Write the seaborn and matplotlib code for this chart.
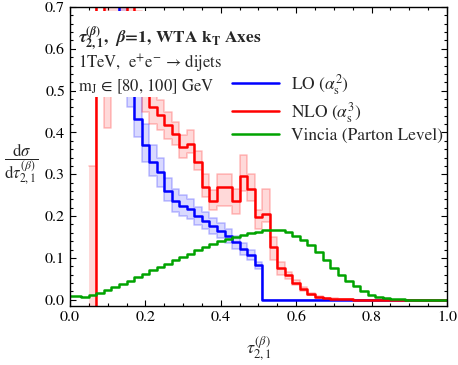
import numpy as np
import pandas as pd
import matplotlib
matplotlib.use("Agg")
import matplotlib.pyplot as plt
from matplotlib.patches import Rectangle
from matplotlib.ticker import MultipleLocator, FormatStrFormatter
import seaborn as sns

nan = np.nan

# bin centres, width 0.02
tau_centres = np.linspace(0.0, 1.0, 51)

# LO (alpha_s^2)
lo = [nan, nan, nan, nan, nan, nan,
      1.00, 0.62, 0.52, 0.433, 0.369, 0.329, 0.305, 0.261, 0.237, 0.225,
      0.217, 0.201, 0.189, 0.177, 0.165, 0.153, 0.137, 0.122, 0.106, 0.082,
      0, 0, 0, 0, 0, 0, 0, 0, 0, 0, 0, 0, 0, 0, 0, 0, 0, 0, 0, 0, 0, 0, 0, 0, 0]
lo_lower = [nan, nan, nan, nan, nan, nan,
            0.90, 0.55, 0.46, 0.39, 0.33, 0.295, 0.27, 0.235, 0.21, 0.20,
            0.193, 0.178, 0.168, 0.157, 0.147, 0.136, 0.122, 0.108, 0.094, 0.073,
            0, 0, 0, 0, 0, 0, 0, 0, 0, 0, 0, 0, 0, 0, 0, 0, 0, 0, 0, 0, 0, 0, 0, 0, 0]
lo_upper = [nan, nan, nan, nan, nan, nan,
            1.20, 0.72, 0.60, 0.49, 0.42, 0.37, 0.34, 0.29, 0.265, 0.25,
            0.24, 0.222, 0.21, 0.196, 0.183, 0.17, 0.152, 0.136, 0.118, 0.091,
            0, 0, 0, 0, 0, 0, 0, 0, 0, 0, 0, 0, 0, 0, 0, 0, 0, 0, 0, 0, 0, 0, 0, 0, 0]

# NLO (alpha_s^3)
nlo = [nan, nan, nan, -0.10, 1.40, 0.60, 0.62, 0.64, 0.72, 0.56,
       0.50, 0.461, 0.441, 0.417, 0.397, 0.365, 0.373, 0.33, 0.27, 0.235,
       0.269, 0.269, 0.237, 0.297, 0.265, 0.197, 0.205, 0.125, 0.077, 0.058,
       0.041, 0.026, 0.014, 0.007, 0.003, 0.002, 0.001, 0.001, 0.0005,
       0, 0, 0, 0, 0, 0, 0, 0, 0, 0, 0, 0]
nlo_lower = [nan, nan, nan, -0.20, 1.00, 0.41, 0.50, 0.52, 0.60, 0.49,
             0.45, 0.42, 0.405, 0.385, 0.37, 0.34, 0.35, 0.31, 0.245, 0.215,
             0.225, 0.225, 0.205, 0.26, 0.235, 0.17, 0.185, 0.095, 0.06, 0.05,
             0.035, 0.022, 0.011, 0.005, 0.002, 0.001, 0.001, 0.001, 0.0005,
             0, 0, 0, 0, 0, 0, 0, 0, 0, 0, 0, 0]
nlo_upper = [nan, nan, nan, 0.32, 2.00, 0.80, 0.80, 0.80, 0.85, 0.69,
             0.56, 0.50, 0.478, 0.448, 0.425, 0.395, 0.405, 0.355, 0.30, 0.262,
             0.30, 0.30, 0.265, 0.345, 0.30, 0.215, 0.265, 0.15, 0.09, 0.067,
             0.048, 0.031, 0.017, 0.009, 0.004, 0.003, 0.001, 0.001, 0.0005,
             0, 0, 0, 0, 0, 0, 0, 0, 0, 0, 0, 0]

# Vincia (parton level)
vincia = [0.010, 0.008, 0.007, 0.011, 0.017, 0.023, 0.030, 0.038, 0.046, 0.054,
          0.062, 0.070, 0.078, 0.086, 0.094, 0.102, 0.110, 0.118, 0.126, 0.133,
          0.140, 0.146, 0.151, 0.156, 0.160, 0.163, 0.166, 0.167, 0.166, 0.161,
          0.153, 0.143, 0.131, 0.113, 0.095, 0.077, 0.060, 0.045, 0.032, 0.021,
          0.012, 0.006, 0.003, 0.001, 0.001, 0.0005, 0, 0, 0, 0, 0]

BLUE, RED, GREEN = "#0000ff", "#ff0000", "#00a300"


def ext(vals):
    vals = np.asarray(vals, dtype=float)
    return np.append(vals, vals[-1])


edges = np.append(tau_centres - 0.01, tau_centres[-1] + 0.01)
df = pd.DataFrame({"tau": edges, "LO": ext(lo), "NLO": ext(nlo), "Vincia": ext(vincia)})

sns.set_style("ticks")
plt.rcParams["font.family"] = ["STIXGeneral", "DejaVu Sans"]
plt.rcParams["mathtext.fontset"] = "stix"

fig = plt.figure(figsize=(4.58, 3.65), dpi=100)
ax = fig.add_axes([0.1528, 0.1616, 0.8231, 0.8192])

# scale-variation bands
for lowr, upr, col in [(lo_lower, lo_upper, BLUE), (nlo_lower, nlo_upper, RED)]:
    ax.fill_between(edges, ext(lowr), ext(upr), step="post", color=col,
                    alpha=0.15, lw=0, zorder=1)
    for b in (lowr, upr):
        ax.step(edges, ext(b), where="post", color=col, alpha=0.22, lw=1.2, zorder=1)

sns.lineplot(data=df, x="tau", y="LO", drawstyle="steps-post", color=BLUE, lw=1.8,
             estimator=None, label=r"LO ($\alpha_\mathrm{s}^{2}$)", ax=ax, zorder=2)
sns.lineplot(data=df, x="tau", y="NLO", drawstyle="steps-post", color=RED, lw=1.8,
             estimator=None, label=r"NLO ($\alpha_\mathrm{s}^{3}$)", ax=ax, zorder=3)
sns.lineplot(data=df, x="tau", y="Vincia", drawstyle="steps-post", color=GREEN, lw=1.8,
             estimator=None, label="Vincia (Parton Level)", ax=ax, zorder=4)

ax.set_xlim(0, 1)
ax.set_ylim(-0.015, 0.7)

# white box behind the labels
ax.add_patch(Rectangle((0.015, 0.484), 0.375, 0.206, facecolor="white",
                       edgecolor="none", zorder=5))
ax.text(0.02, 0.612,
        r"$\boldsymbol{\tau}_{\mathbf{2,1}}^{\mathbf{(}\boldsymbol{\beta}\mathbf{)}}$,  "
        r"$\boldsymbol{\beta}$=1, WTA k$_\mathbf{T}$ Axes",
        fontsize=12.5, fontweight="bold", zorder=6)
ax.text(0.02, 0.554, "1TeV,  e$^{+}$e$^{-}$ → dijets", fontsize=12, zorder=6)
ax.text(0.02, 0.498, "m$_\mathrm{J}$ ∈ [80, 100] GeV", fontsize=12, zorder=6)

leg = ax.legend(loc="center left", bbox_to_anchor=(0.43, 0.662), frameon=False,
                fontsize=12.5, handlelength=2.7, handletextpad=0.7, labelspacing=0.2,
                borderpad=0, borderaxespad=0)

ax.set_xlabel(r"$\tau_{2,1}^{(\beta)}$", fontsize=13)
ax.xaxis.set_label_coords(0.5, -0.095)
ax.set_ylabel(r"$\dfrac{\mathrm{d}\sigma}{\mathrm{d}\tau_{2,1}^{(\beta)}}$",
              fontsize=12, rotation=0, va="center", ha="center")
ax.yaxis.set_label_coords(-0.13, 0.475)

ax.xaxis.set_major_locator(MultipleLocator(0.2))
ax.xaxis.set_minor_locator(MultipleLocator(0.05))
ax.yaxis.set_major_locator(MultipleLocator(0.1))
ax.yaxis.set_minor_locator(MultipleLocator(0.02))
ax.xaxis.set_major_formatter(FormatStrFormatter("%.1f"))
ax.yaxis.set_major_formatter(FormatStrFormatter("%.1f"))
ax.tick_params(which="both", direction="in", top=True, right=True, labelsize=11.5,
               colors="black", width=0.8)
ax.tick_params(which="major", length=4.5)
ax.tick_params(which="minor", length=2.5)
for s in ax.spines.values():
    s.set_color("black")
    s.set_linewidth(1.0)
    s.set_zorder(7)

fig.savefig("out.png", dpi=100)
